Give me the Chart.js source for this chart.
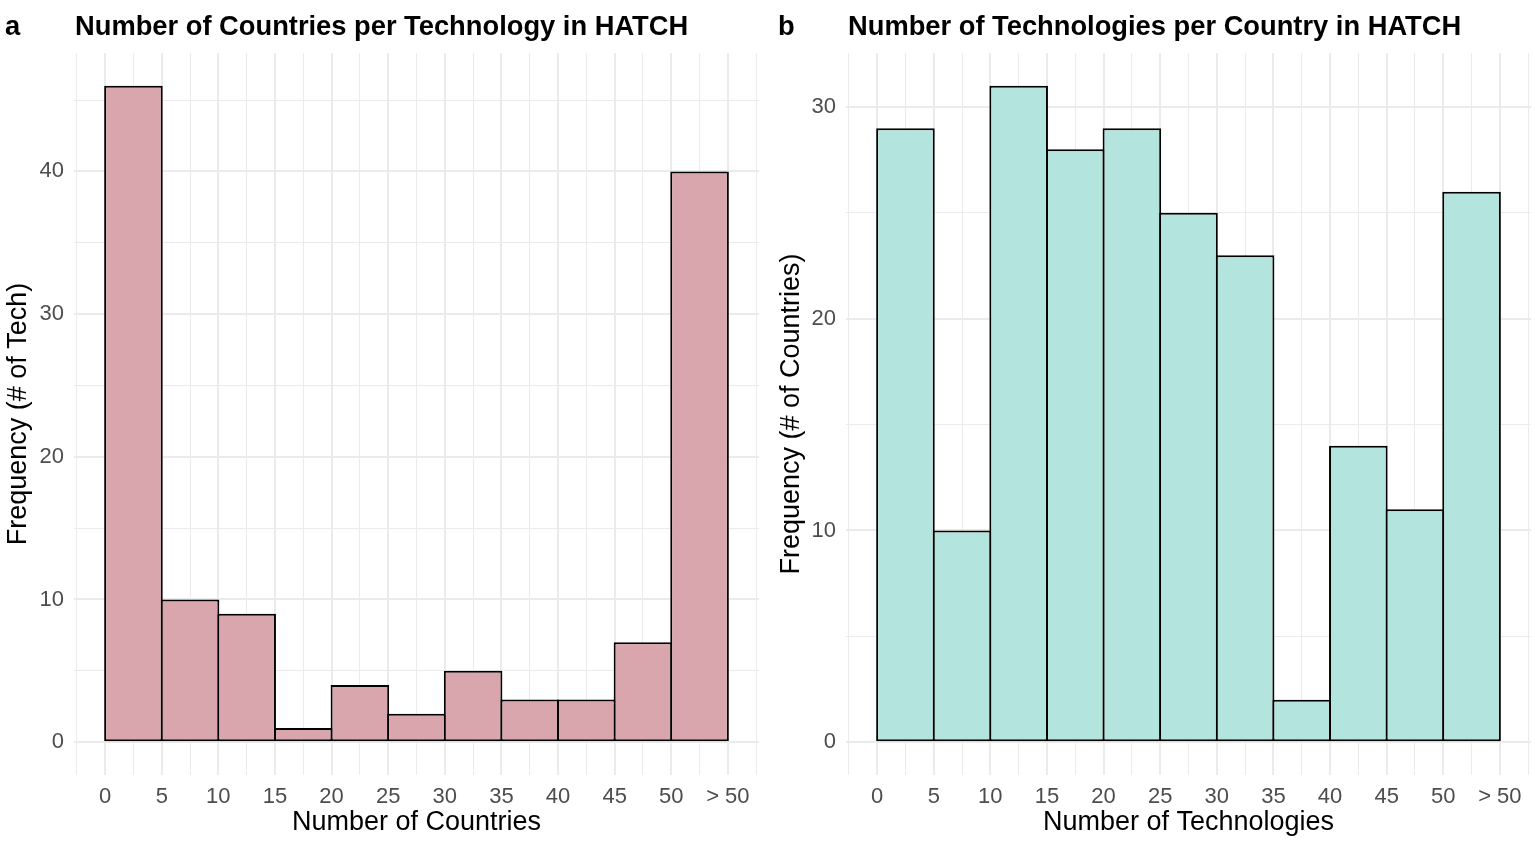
<!DOCTYPE html>
<html>
<head>
<meta charset="utf-8">
<script src="https://cdn.jsdelivr.net/npm/chart.js@4"></script>
<style>
  body { margin: 0; background: #fff; width: 1535px; height: 845px; overflow: hidden; position: relative; font-family: "Liberation Sans", Arial, sans-serif; }
  .panel { position: absolute; top: 0; height: 845px; }
  .tag, .title { position: absolute; top: 12px; font-size: 27.3px; line-height: 27px; font-weight: bold; color: #000; white-space: nowrap; }
</style>
</head>
<body>
<div class="panel" style="left:0;width:770px"><canvas id="chartA"></canvas></div>
<div class="panel" style="left:770px;width:765px"><canvas id="chartB"></canvas></div>
<div class="tag" style="left:5px">a</div>
<div class="title" style="left:75px">Number of Countries per Technology in HATCH</div>
<div class="tag" style="left:778px">b</div>
<div class="title" style="left:848px">Number of Technologies per Country in HATCH</div>
<script>
// bin centres (width 5), last bin is "> 50"
const binCentres = [2.5, 7.5, 12.5, 17.5, 22.5, 27.5, 32.5, 37.5, 42.5, 47.5, 52.5];
const countriesPerTech = [46, 10, 9, 1, 4, 2, 5, 3, 3, 7, 40];
const techPerCountry = [29, 10, 31, 28, 29, 25, 23, 2, 14, 11, 26];
const xTickValues = [-2.5, 0, 2.5, 5, 7.5, 10, 12.5, 15, 17.5, 20, 22.5, 25, 27.5, 30, 32.5, 35, 37.5, 40, 42.5, 45, 47.5, 50, 52.5, 55, 57.5];
const xTickLabels = {0: '0', 5: '5', 10: '10', 15: '15', 20: '20', 25: '25', 30: '30', 35: '35', 40: '40', 45: '45', 50: '50', 55: '> 50'};

const font = "'Liberation Sans', Arial, sans-serif";
const majorGrid = '#ebebeb';

function makeHist(id, values, fill, xTitle, yTitle, yMax, yAxisWidth, yTitlePad, padRight) {
  const ctx = document.getElementById(id);
  return new Chart(ctx, {
    type: 'bar',
    data: {
      datasets: [{
        data: values.map((v, i) => ({x: binCentres[i], y: v})),
        backgroundColor: fill,
        borderColor: '#000',
        borderWidth: 2,
        borderSkipped: false,
        // bar width is taken from the 2.5 tick spacing, so x2 fills a 5-wide bin;
        // the extra bit lets neighbours' borders land on one shared line
        barPercentage: 1.035,
        categoryPercentage: 2,
        grouped: false
      }]
    },
    options: {
      responsive: true,
      maintainAspectRatio: false,
      animation: false,
      layout: { padding: { top: 53, right: padRight, left: 0, bottom: 0 } },
      plugins: { legend: { display: false }, tooltip: { enabled: false } },
      scales: {
        x: {
          type: 'linear',
          offset: false,
          min: -2.75,
          max: 57.75,
          afterBuildTicks: axis => { axis.ticks = xTickValues.map(v => ({value: v})); },
          afterFit: axis => {
            axis.height = 70;
            axis.paddingLeft = 0;
            axis.paddingRight = 0;
          },
          border: { display: false },
          grid: {
            offset: false,
            drawTicks: false,
            color: majorGrid,
            lineWidth: c => (c.tick && c.tick.value % 5 === 0) ? 2 : 1
          },
          ticks: {
            autoSkip: false,
            maxRotation: 0,
            padding: 9,
            color: '#4d4d4d',
            font: { family: font, size: 22 },
            callback: v => xTickLabels[v] !== undefined ? xTickLabels[v] : ''
          },
          title: {
            display: true,
            text: xTitle,
            color: '#000',
            font: { family: font, size: 27 },
            padding: { top: 0, bottom: 6 }
          }
        },
        y: {
          min: -yMax * 0.05,
          max: yMax * 1.05,
          afterBuildTicks: axis => {
            const t = [];
            for (let v = 0; v <= yMax * 1.05; v += 5) t.push({value: v});
            axis.ticks = t;
          },
          afterFit: axis => { axis.width = yAxisWidth; },
          border: { display: false },
          grid: {
            drawTicks: false,
            color: majorGrid,
            lineWidth: c => (c.tick && c.tick.value % 10 === 0) ? 2 : 1
          },
          ticks: {
            padding: 10,
            color: '#4d4d4d',
            font: { family: font, size: 22 },
            callback: v => v % 10 === 0 ? String(v) : ''
          },
          title: {
            display: true,
            text: yTitle,
            color: '#000',
            font: { family: font, size: 27 },
            padding: { top: yTitlePad, bottom: 0 }
          }
        }
      }
    }
  });
}

makeHist('chartA', countriesPerTech, '#d9a6ae', 'Number of Countries', 'Frequency (# of Tech)', 46, 74, 2, 11);
makeHist('chartB', techPerCountry, '#b3e5de', 'Number of Technologies', 'Frequency (# of Countries)', 31, 76, 5, 4);
</script>
</body>
</html>
